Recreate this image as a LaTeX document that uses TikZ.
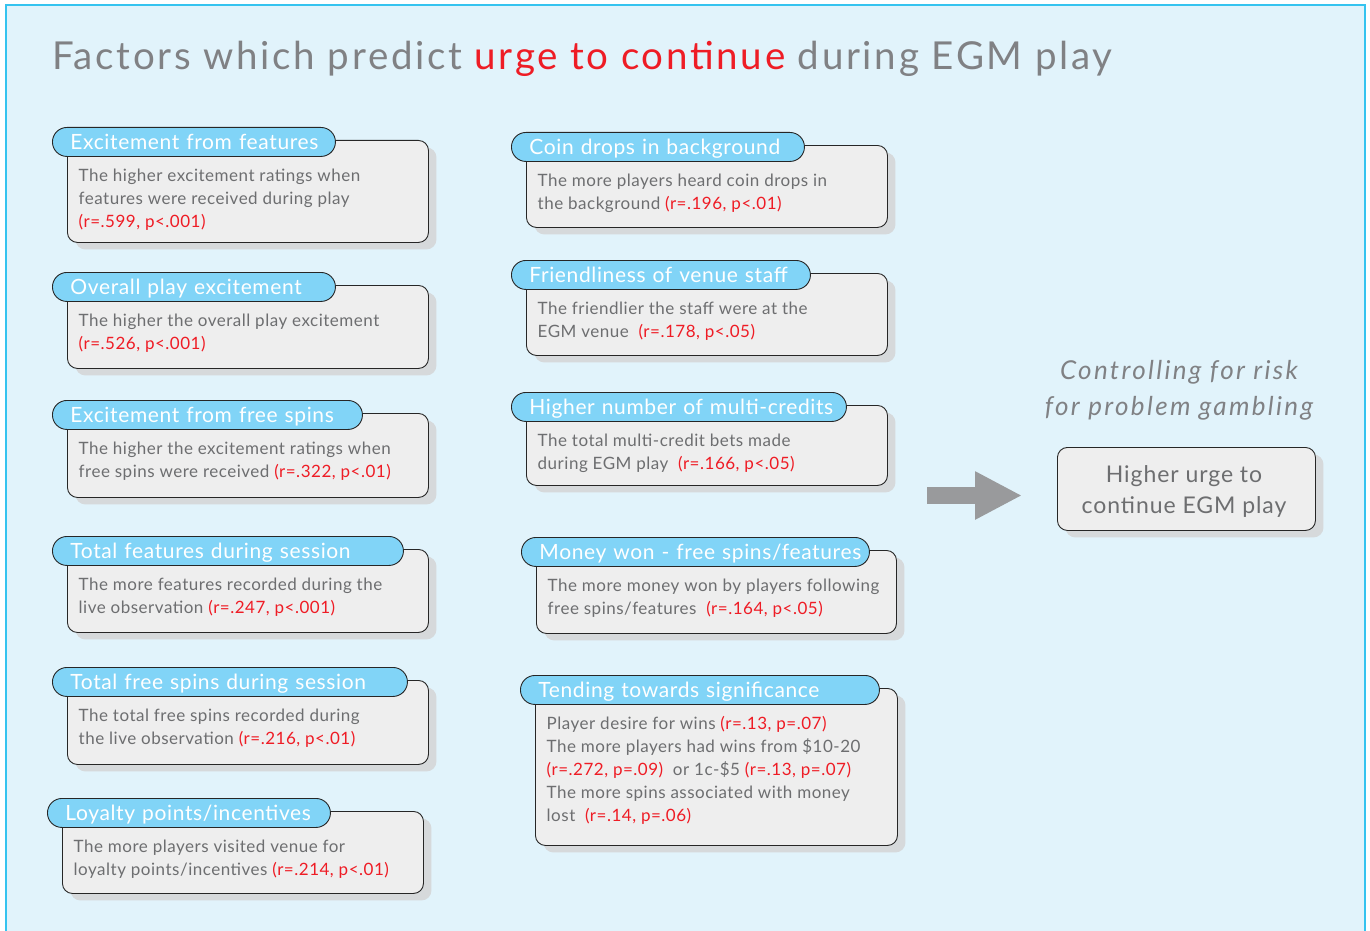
\documentclass[tikz,border=0pt]{standalone}
\usepackage{fontspec}
\setmainfont{Lato}
\newfontfamily\headfont[LetterSpace=7.0]{Lato}
\newfontfamily\sidefont[LetterSpace=9.0]{Lato}
\newfontfamily\bodyfont[LetterSpace=3.0]{Lato}
\newfontfamily\labelfont[LetterSpace=3.0]{Lato}
\newfontfamily\urgefont[LetterSpace=4.0]{Lato}
\usetikzlibrary{calc,shadows,arrows.meta}

\definecolor{paneblue}{HTML}{E1F3FB}
\definecolor{framecyan}{HTML}{35C3EF}
\definecolor{tabblue}{HTML}{81D4F7}
\definecolor{boxgrey}{HTML}{EEEEEE}
\definecolor{shadegrey}{HTML}{D6D9DB}
\definecolor{textgrey}{HTML}{6D6E70}
\definecolor{headgrey}{HTML}{808184}
\definecolor{statred}{HTML}{EE1C25}
\definecolor{arrowgrey}{HTML}{999A9C}

\newcommand\stat[1]{\textcolor{statred}{#1}}

\tikzset{
  factorbox/.style={rectangle, rounded corners=10pt, draw=black!85, line width=0.9pt,
    fill=boxgrey, inner sep=0pt,
    drop shadow={shadow xshift=8pt, shadow yshift=-7pt, fill=shadegrey, opacity=1}},
  tabbox/.style={rectangle, rounded corners=14.5pt, draw=black!85, line width=0.9pt,
    fill=tabblue, text=white, font=\labelfont\fontsize{21}{24}\selectfont,
    minimum height=29pt, inner xsep=18pt, inner ysep=0pt,
    text height=16pt, text depth=0pt, align=left},
  bodytext/.style={font=\bodyfont\fontsize{17}{23}\selectfont, text=textgrey,
    align=left, inner sep=0pt, anchor=north west},
  bigarrow/.style={draw=arrowgrey, line width=17pt,
    -{Triangle[length=47pt,width=45pt]}}
}

% #1 name, #2/#3 box top-left, #4/#5 box bottom-right, #6 tab width, #7 title, #8 body
\newcommand\factor[8]{%
  \node[factorbox, anchor=north west, minimum width={(#4-#2)*1pt},
        minimum height={(#5-#3)*1pt}] (#1) at (#2,#3) {};
  \node[tabbox, anchor=north west, text width={(#6-36)*1pt}] (#1-tab)
        at ($(#2,#3)+(-15,-13)$) {\rlap{#7}};
  \node[bodytext] (#1-text) at ($(#2,#3)+(11.5,27)$) {\rule{0pt}{14pt}#8};
}

\begin{document}
\begin{tikzpicture}[x=1pt,y=-1pt]
  \useasboundingbox (0,0) rectangle (1370,931);
  \fill[white] (0,0) rectangle (1370,931);
  \draw[framecyan, line width=2.5pt, fill=paneblue] (6,5) rectangle (1365,945);

  \node[anchor=base west, inner sep=0pt, text=headgrey,
        font=\headfont\fontsize{38.5}{40}\selectfont] (title) at (52,70)
    {Factors which predict \textcolor{statred}{urge to continue} during EGM play};

  % left column
  \factor{feat}{67}{140}{428}{242}{283}{Excitement from features}
    {The higher excitement ratings when\\features were received during play\\\stat{(r=.599, p<.001)}}
  \factor{overall}{67}{285}{428}{368}{283}{Overall play excitement}
    {The higher the overall play excitement\\\stat{(r=.526, p<.001)}}
  \factor{freespin}{67}{413}{428}{497}{310}{Excitement from free spins}
    {The higher the excitement ratings when\\free spins were received \stat{(r=.322, p<.01)}}
  \factor{totfeat}{67}{549}{428}{632}{351}{Total features during session}
    {The more features recorded during the\\live observation \stat{(r=.247, p<.001)}}
  \factor{totspin}{67}{680}{428}{764}{355}{Total free spins during session}
    {The total free spins recorded during\\the live observation \stat{(r=.216, p<.01)}}
  \factor{loyal}{62}{811}{423}{893}{283}{Loyalty points/incentives}
    {The more players visited venue for\\loyalty points/incentives \stat{(r=.214, p<.01)}}

  % middle column
  \factor{coin}{526}{145}{887}{227}{293}{Coin drops in background}
    {The more players heard coin drops in\\the background \stat{(r=.196, p<.01)}}
  \factor{staff}{526}{273}{887}{355}{299}{Friendliness of venue staff}
    {The friendlier the staff were at the\\EGM venue\ \ \stat{(r=.178, p<.05)}}
  \factor{multi}{526}{405}{887}{485}{335}{Higher number of multi-credits}
    {The total multi-credit bets made\\during EGM play\ \ \stat{(r=.166, p<.05)}}
  \factor{money}{536}{550}{896}{633}{348}{Money won - free spins/features}
    {The more money won by players following\\free spins/features\ \ \stat{(r=.164, p<.05)}}
  \factor{tend}{535}{688}{897}{845}{359}{Tending towards significance}
    {Player desire for wins \stat{(r=.13, p=.07)}\\The more players had wins from \$10-20\\\stat{(r=.272, p=.09)}\ \ or 1c-\$5 \stat{(r=.13, p=.07)}\\The more spins associated with money\\lost\ \ \stat{(r=.14, p=.06)}}

  % outcome
  \node[anchor=base, inner sep=0pt, text=headgrey,
        font=\sidefont\itshape\fontsize{26}{36}\selectfont, align=center] (control)
    at (1179,415) {Controlling for risk\\for problem gambling};
  \node[factorbox, anchor=north west, minimum width=258pt, minimum height=83pt] (urge)
    at (1057,447) {};
  \node[anchor=base, inner sep=0pt, text=textgrey, align=center,
        font=\urgefont\fontsize{23}{31}\selectfont] (urge-text) at (1184,513)
    {Higher urge to\\continue EGM play};

  \coordinate (arrow-from) at (927,495.5);
  \coordinate (arrow-to) at (1022,495.5);
  \draw[bigarrow] (arrow-from) -- (arrow-to);
\end{tikzpicture}
\end{document}
